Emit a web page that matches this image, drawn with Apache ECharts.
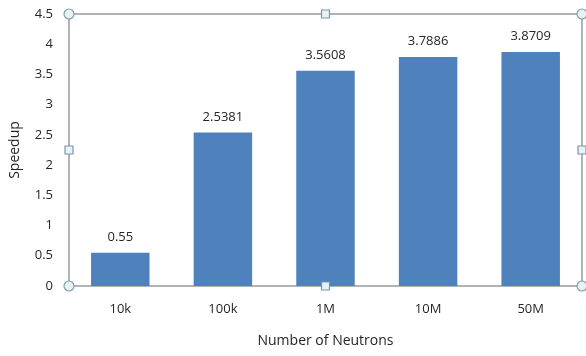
<!DOCTYPE html>
<html>
<head>
<meta charset="utf-8">
<script src="https://cdn.jsdelivr.net/npm/echarts@6/dist/echarts.min.js"></script>
<style>
  html, body { margin: 0; padding: 0; background: #fff; }
  #chart { width: 586px; height: 356px; }
</style>
</head>
<body>
<div id="chart"></div>
<script>
// Speedup by number of simulated neutrons
var categories = ['10k', '100k', '1M', '10M', '50M'];
var speedup = [0.55, 2.5381, 3.5608, 3.7886, 3.8709];
var yTicks = { min: 0, max: 4.5, interval: 0.5 };

var G = { left: 69, right: 4, top: 14, bottom: 70 };
var W = 586, H = 356;
var x0 = G.left, x1 = W - G.right, y0 = G.top, y1 = H - G.bottom;
var xm = (x0 + x1) / 2, ym = (y0 + y1) / 2;

var frameColor = '#9a9a9a';
var textColor = '#262626';
var font = '"Open Sans", "Noto Sans", sans-serif';

function circleHandle(x, y) {
  return { type: 'circle', shape: { cx: x, cy: y, r: 5 }, z: 100,
    style: { fill: '#e4f3f7', stroke: '#8c9ba3', lineWidth: 1.2 } };
}
function squareHandle(x, y) {
  return { type: 'rect', shape: { x: x - 4, y: y - 4, width: 8, height: 8 }, z: 100,
    style: { fill: '#e4f3f7', stroke: '#7e95a8', lineWidth: 1.2 } };
}

var chart = echarts.init(document.getElementById('chart'), null, { renderer: 'canvas' });
chart.setOption({
  animation: false,
  backgroundColor: '#ffffff',
  grid: { left: G.left, right: G.right, top: G.top, bottom: G.bottom,
          containLabel: false, outerBoundsMode: 'none' },
  xAxis: {
    type: 'category',
    data: categories,
    axisLine: { lineStyle: { color: frameColor, width: 1.5 } },
    axisTick: { show: false },
    axisLabel: { color: textColor, fontFamily: font, fontSize: 13, margin: 17 },
    name: 'Number of Neutrons',
    nameLocation: 'middle',
    nameGap: 48,
    nameTextStyle: { color: textColor, fontFamily: font, fontSize: 14 }
  },
  yAxis: {
    type: 'value',
    min: yTicks.min, max: yTicks.max, interval: yTicks.interval,
    splitLine: { show: false },
    axisLine: { show: false },
    axisTick: { show: false },
    axisLabel: { color: textColor, fontFamily: font, fontSize: 13, margin: 16 },
    name: 'Speedup',
    nameLocation: 'middle',
    nameGap: 47,
    nameTextStyle: { color: textColor, fontFamily: font, fontSize: 14 }
  },
  series: [{
    type: 'bar',
    data: speedup,
    barCategoryGap: '43%',
    itemStyle: { color: '#4f81bd' },
    label: {
      show: true, position: 'top', distance: 9,
      color: textColor, fontFamily: font, fontSize: 13,
      formatter: function (p) { return String(p.value); }
    }
  }],
  graphic: [
    // selection frame around the plot area
    { type: 'polyline', z: 90, shape: { points: [[x0, y1], [x0, y0], [x1, y0], [x1, y1]] },
      style: { stroke: frameColor, lineWidth: 1.5, fill: null } },
    circleHandle(x0, y0), circleHandle(x1, y0), circleHandle(x0, y1), circleHandle(x1, y1),
    squareHandle(xm, y0), squareHandle(xm, y1), squareHandle(x0, ym), squareHandle(x1, ym)
  ]
});
</script>
</body>
</html>
